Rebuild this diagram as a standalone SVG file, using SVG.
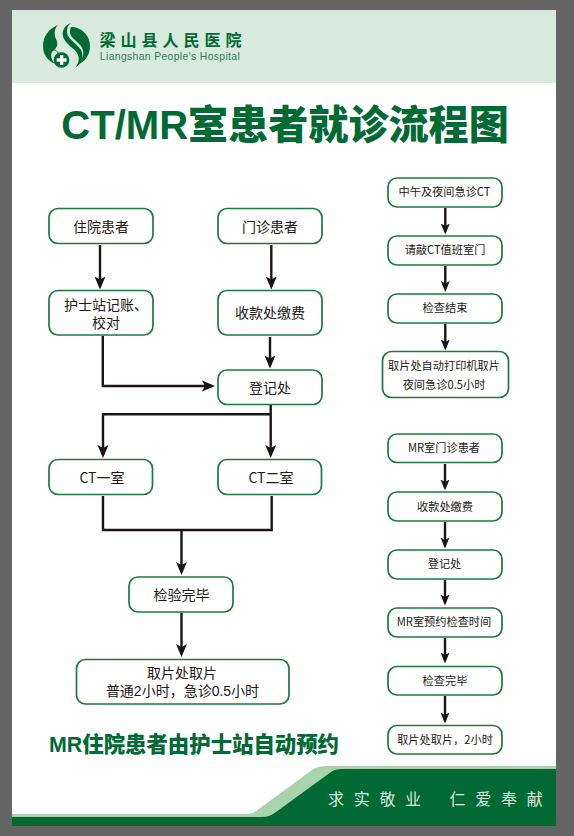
<svg xmlns="http://www.w3.org/2000/svg" width="574" height="836" viewBox="0 0 574 836">
<defs>
<marker id="a" viewBox="0 0 13 12" refX="10" refY="6" markerWidth="13" markerHeight="12" markerUnits="userSpaceOnUse" orient="auto"><path d="M0 .5L13 6L0 11.500L3 6Z" fill="#1a1418"/></marker>
<marker id="b" viewBox="0 0 11 10" refX="8" refY="5" markerWidth="11" markerHeight="10" markerUnits="userSpaceOnUse" orient="auto"><path d="M0 .5L11 5L0 9.500L2.500 5Z" fill="#1a1418"/></marker>
</defs>
<style>
text{font-family:"Noto Sans CJK SC","Liberation Sans",sans-serif;fill:#231815;text-anchor:middle}
.n rect{fill:#fff;stroke:#1c7a3e;stroke-width:1.7}
.l{font-size:14px}
.s{font-size:11.2px}
.d{font-family:"Liberation Sans","Noto Sans CJK SC",sans-serif}
#connectors path{fill:none;stroke:#1a1418;stroke-width:2.4}
#connectors .m{marker-end:url(#a)}
#connectors .k{marker-end:url(#b)}
</style>
<rect width="574" height="836" fill="#646464"/>
<rect x="12" y="10" width="544" height="816" fill="#fff"/>
<rect x="12" y="10" width="544" height="73" fill="#d8eadb"/>
<g id="logo" fill="#006934">
<path d="M58 25C48 29 43 37 43 46C43 54 47 60 55 64C50 58 50 53 54 50C58 47 58 43 56 39C54 34 54 29 58 25Z"/>
<path d="M71 23C63 26 61 33 64 39C67 45 74 48 77 53C80 58 79 63 75 68C82 63 84 56 81 50C78 45 71 41 68 36C66 31 67 26 71 23Z"/>
<path d="M71 27C81 27 90 35 90 46C90 55 85 62 77 65C84 58 85 52 81 46C77 41 71 38 70 33C70 31 70 29 71 27Z"/>
<circle cx="61.500" cy="60" r="7.800"/>
<path d="M60 55H63.300V58.300H66.500V61.700H63.300V65H60V61.700H56.700V58.300H60Z" fill="#fff"/>
<path d="M52 50C55 49 57 51 58 53" fill="none" stroke="#006934" stroke-width="1"/>
</g>
<text x="99.500 120.500 141.500 162.500 183.500 204.500 225.500" y="46" style="text-anchor:start;font-size:16px;font-weight:700;fill:#006934">梁山县人民医院</text>
<text x="170" y="60" style="font-size:10.400px;fill:#2f7d50;font-family:'Liberation Sans',sans-serif;letter-spacing:.35px">Liangshan People's Hospital</text>
<text x="285" y="139" style="font-size:40.100px;font-weight:900;fill:#006934;font-family:'Liberation Sans','Noto Sans CJK SC',sans-serif">CT/MR室患者就诊流程图</text>
<g id="connectors">
<path class="m" d="M100 245V286.500"/>
<path class="m" d="M271.300 245V286.500"/>
<path class="m" d="M102.800 336V386H212"/>
<path class="m" d="M270 337V365.500"/>
<path class="m" d="M270.700 405V455"/>
<path class="m" d="M270.700 414.300H103V455"/>
<path d="M103 496V530H271.700V496"/>
<path class="m" d="M181.500 530V572"/>
<path class="m" d="M181.500 613V654"/>
<path class="k" d="M445.300 208V231.500"/>
<path class="k" d="M445.300 266V289"/>
<path class="k" d="M445.300 324V347.500"/>
<path class="k" d="M445 464V487.500"/>
<path class="k" d="M445 522V545.500"/>
<path class="k" d="M445 580V602.500"/>
<path class="k" d="M445 638V660.500"/>
<path class="k" d="M445 696V720.500"/>
</g>
<g id="n1" class="n"><rect x="49" y="208.500" width="104" height="35" rx="9"/><text class="l" x="101" y="232">住院患者</text></g>
<g id="n2" class="n"><rect x="218" y="208.500" width="104" height="35" rx="9"/><text class="l" x="270" y="232">门诊患者</text></g>
<g id="n3" class="n"><rect x="49" y="290.500" width="104" height="44.500" rx="9"/><text class="l d"><tspan x="106" y="310">护士站记账、</tspan><tspan x="106" y="328">校对</tspan></text></g>
<g id="n4" class="n"><rect x="218" y="290.500" width="104" height="44.500" rx="9"/><text class="l" x="270" y="318">收款处缴费</text></g>
<g id="n5" class="n"><rect x="218" y="370" width="104" height="34.500" rx="9"/><text class="l" x="270" y="393">登记处</text></g>
<g id="n6" class="n"><rect x="49" y="459.500" width="103.500" height="35" rx="9"/><text class="l" x="102" y="483">CT一室</text></g>
<g id="n7" class="n"><rect x="218" y="459.500" width="103.500" height="35" rx="9"/><text class="l" x="271" y="483">CT二室</text></g>
<g id="n8" class="n"><rect x="129" y="577" width="104" height="35" rx="9"/><text class="l" x="181.500" y="600">检验完毕</text></g>
<g id="n9" class="n"><rect x="76.500" y="659.500" width="212.500" height="44.500" rx="9"/><text class="l d"><tspan x="182" y="678">取片处取片</tspan><tspan x="182.500" y="696">普通2小时，急诊0.5小时</tspan></text></g>
<g id="r1" class="n"><rect x="388" y="178" width="114" height="29" rx="9"/><text class="s" x="444.500" y="196">中午及夜间急诊CT</text></g>
<g id="r2" class="n"><rect x="388" y="236" width="114" height="29" rx="9"/><text class="s" x="445" y="254">请敲CT值班室门</text></g>
<g id="r3" class="n"><rect x="388" y="294" width="114" height="29" rx="9"/><text class="s" x="445" y="312">检查结束</text></g>
<g id="r4" class="n"><rect x="382.500" y="351.500" width="126" height="46" rx="9"/><text class="s"><tspan x="444" y="370">取片处自动打印机取片</tspan><tspan x="444" y="388.500">夜间急诊0.5小时</tspan></text></g>
<g id="m1" class="n"><rect x="388" y="434" width="114" height="28.500" rx="9"/><text class="s" x="444" y="452">MR室门诊患者</text></g>
<g id="m2" class="n"><rect x="388" y="492" width="114" height="29" rx="9"/><text class="s" x="445" y="510.500">收款处缴费</text></g>
<g id="m3" class="n"><rect x="388" y="550" width="114" height="29" rx="9"/><text class="s" x="444.500" y="568">登记处</text></g>
<g id="m4" class="n"><rect x="388" y="608" width="114" height="29" rx="9"/><text class="s" x="444" y="626">MR室预约检查时间</text></g>
<g id="m5" class="n"><rect x="388" y="666.500" width="114" height="28.500" rx="9"/><text class="s" x="445" y="685">检查完毕</text></g>
<g id="m6" class="n"><rect x="388" y="725.500" width="114" height="28.500" rx="9"/><text class="s" x="445" y="744">取片处取片，2小时</text></g>
<text x="194" y="752" style="font-size:21.400px;font-weight:900;fill:#006934;font-family:'Liberation Sans','Noto Sans CJK SC',sans-serif">MR住院患者由护士站自动预约</text>
<path d="M12 814H246Q252 814 256 811L312 770Q318 766 326 766H556V826H12Z" fill="#a9d3ac"/>
<path d="M12 817H262Q270 817 276 812L331 772Q335 769 342 769H556V826H12Z" fill="#006934"/>
<text x="328 353.700 379.400 405 449.500 475.200 501 526.700" y="805" style="text-anchor:start;font-size:16px;fill:#d8eadb">求实敬业仁爱奉献</text>
</svg>
